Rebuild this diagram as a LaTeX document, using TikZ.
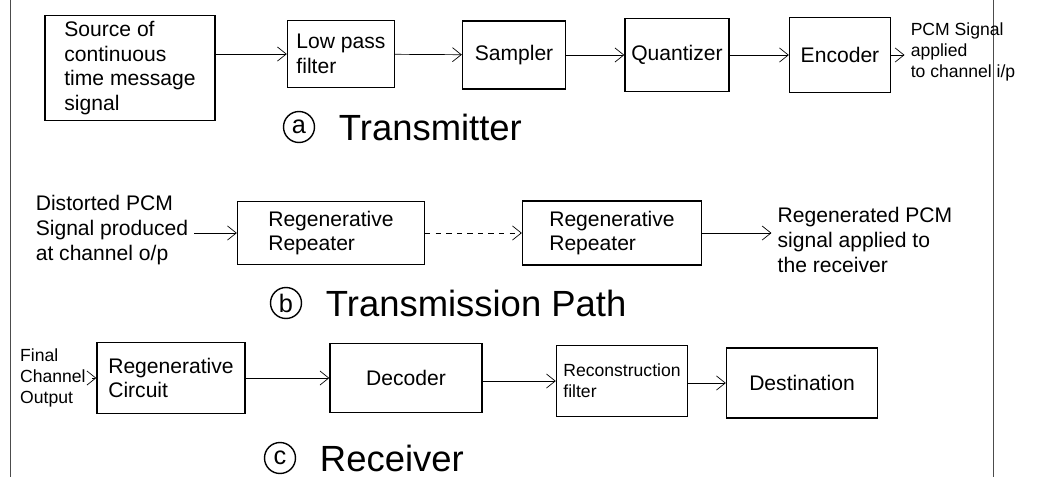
\documentclass[tikz,border=0pt]{standalone}
\usepackage{fontspec}
\setmainfont{Liberation Sans}
\usetikzlibrary{arrows.meta,positioning}

\begin{document}
\begin{tikzpicture}[x=0.02cm,y=-0.02cm,>={Straight Barb[length=5pt,width=8pt]},
  blk/.style={rectangle, draw, thick, align=left, font=\large},
  note/.style={align=left, font=\large},
  tag/.style={circle, draw, thick, inner sep=1pt, minimum size=0.62cm, font=\Large},
  title/.style={font=\huge}]

\useasboundingbox (0,0) rectangle (1041,477);
% margin lines of the page
\draw[gray!60!black] (10,0) -- (10,477);
\draw[gray!60!black] (993,0) -- (993,477);

% (a) transmitter
\node[blk, minimum width=3.4cm, minimum height=1.92cm] (src) at (130,68) {Source of\\continuous\\time message\\signal};
	\node[blk, minimum width=2.14cm, minimum height=1.34cm] (lpf) at (341,54) {Low pass\\filter};
	\node[blk, minimum width=2.06cm, minimum height=1.36cm] (smp) at (514,55) {Sampler};
	\node[blk, minimum width=2.08cm, minimum height=1.46cm] (qnt) at (677,55) {Quantizer};
	\node[blk, minimum width=2.02cm, minimum height=1.5cm] (enc) at (840,55) {Encoder};
\node[note, font=\normalsize] (pcm) at (963,52) {PCM Signal\\applied\\to channel i/p};
\node[tag] (la) at (299,127) {a};
\node[title, right=10pt of la] (lat) {Transmitter};

% (b) transmission path
\node[note] (dist) at (112,230) {Distorted PCM\\Signal produced\\at channel o/p};
	\node[blk, minimum width=3.74cm, minimum height=1.26cm] (rep1) at (331,233) {Regenerative\\Repeater};
	\node[blk, minimum width=3.58cm, minimum height=1.28cm] (rep2) at (612,233) {Regenerative\\Repeater};
\node[note] (regen) at (865,240) {Regenerated PCM\\signal applied to\\the receiver};
\node[tag] (lb) at (286,303) {b};
\node[title, right=10pt of lb] (lbt) {Transmission Path};

% (c) receiver
\node[note, font=\normalsize, anchor=west] (fin) at (14,378) {Final\\Channel\\Output};
	\node[blk, minimum width=2.96cm, minimum height=1.42cm] (rgc) at (171,378) {Regenerative\\Circuit};
	\node[blk, minimum width=3.04cm, minimum height=1.38cm] (dec) at (406,378) {Decoder};
	\node[blk, minimum width=2.62cm, minimum height=1.42cm, font=\normalsize] (rcf) at (622,381) {Reconstruction\\filter};
	\node[blk, minimum width=3.02cm, minimum height=1.4cm] (dst) at (802,383) {Destination};
\node[tag] (lc) at (280,458) {c};
\node[title, right=10pt of lc] (lct) {Receiver};

\draw[->] (src.east |- lpf) -- (lpf);
\draw[->] (lpf) -- (smp);
\draw[->] (smp) -- (qnt);
\draw[->] (qnt) -- (enc);
\draw[->] (enc) -- (enc -| pcm.west);

\draw[->] (dist.east |- rep1) -- (rep1);
\draw[->, dashed] (rep1) -- (rep2);
\draw[->] (rep2) -- (rep2 -| regen.west);

\draw[->] (fin) -- (fin -| rgc.west);
\draw[->] (rgc) -- (dec);
\draw[->] (dec.east |- rcf) -- (rcf);
\draw[->] (rcf.east |- dst) -- (dst);

\end{tikzpicture}
\end{document}
